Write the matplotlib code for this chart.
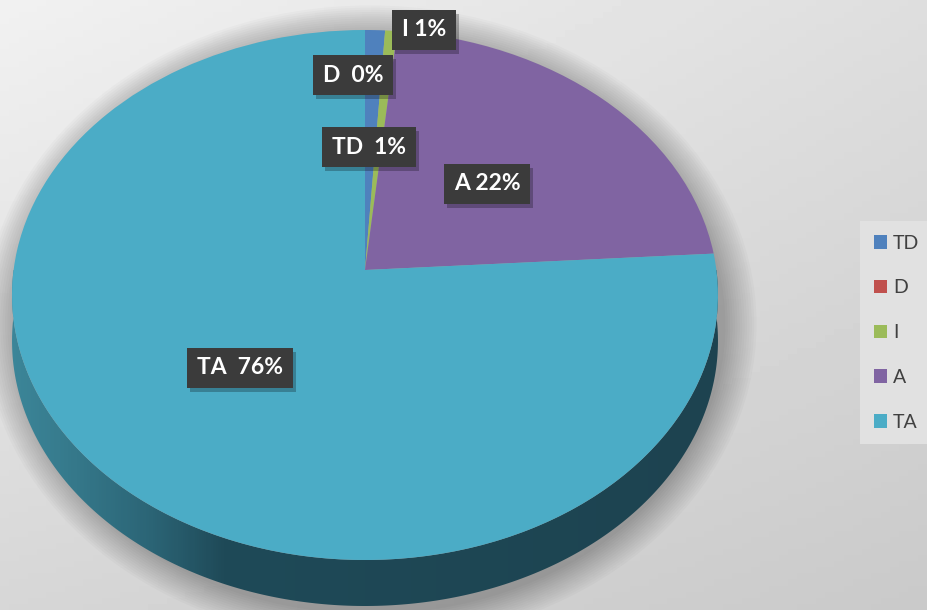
import numpy as np
import matplotlib.pyplot as plt
from matplotlib.colors import LinearSegmentedColormap
from matplotlib.patches import Polygon, Ellipse, Rectangle
from matplotlib.transforms import Transform

# Dados
categorias = ['TD', 'D', 'I', 'A', 'TA']
valores = [1.0, 0.0, 0.6, 22.4, 76.0]
rotulos = ['TD  1%', 'D  0%', 'I 1%', 'A 22%', 'TA  76%']
cores = ['#4f81bd', '#c0504d', '#9bbb59', '#8064a2', '#4bacc6']

# Geometria (pixels, y de cima para baixo)
W, H = 927, 610
cx = 365
y_topo, y_centro, y_base = 30, 270, 560
prof = 46
c = 50 / 530  # fator de perspectiva
a = y_topo * c + y_topo - y_centro
R = 351.4

# posições dos rótulos (centro da caixa, px)
pos_rotulos = [(369, 147), (353, 75), (424, 30), (487, 184), (240, 368)]


class Perspectiva(Transform):
    # leva o círculo unitário da pizza para a elipse em perspectiva (pixels)
    input_dims = 2
    output_dims = 2
    is_separable = False
    has_inverse = False

    def __init__(self, dy=0):
        super().__init__()
        self.dy = dy

    def transform_non_affine(self, values):
        values = np.asarray(values, dtype=float)
        u, v = values[:, 0], values[:, 1]
        d = 1 + c * v
        return np.column_stack([cx + R * u / d, H - ((a * v + y_centro) / d + self.dy)])


fig = plt.figure(figsize=(W / 100, H / 100), dpi=100)

# Fundo em gradiente
ax_bg = fig.add_axes([0, 0, 1, 1])
yy, xx = np.mgrid[0:1:100j, 0:1:100j]
fundo = 0.945 * (1 - xx) * (1 - yy) + 0.87 * xx * (1 - yy) + 0.84 * (1 - xx) * yy + 0.79 * xx * yy
ax_bg.imshow(fundo, cmap='gray', vmin=0, vmax=1, extent=(0, 1, 0, 1), aspect='auto')
ax_bg.axis('off')

ax = fig.add_axes([0, 0, 1, 1])
ax.patch.set_alpha(0)

# Sombra suave
for i in range(14):
    ax.add_patch(Ellipse((cx + 5, H - (y_topo + y_base + prof) / 2 - 6),
                         2 * (R + 4 + i * 2.4), (y_base - y_topo + prof) + 4 + i * 4.4,
                         fc='black', ec='none', alpha=0.02, zorder=1))

# Lateral (profundidade) com gradiente
t = np.linspace(np.pi - 0.3, 2 * np.pi + 0.3, 300)
circ = np.column_stack([np.cos(t), np.sin(t)])
borda_baixo = Perspectiva(prof).transform(circ)
borda_cima = Perspectiva(0).transform(circ)
lateral = Polygon(np.vstack([borda_baixo, borda_cima[::-1]]), closed=True,
                  fc='none', ec='none', transform=ax.transData)
ax.add_patch(lateral)
cmap_lat = LinearSegmentedColormap.from_list('lat', [(0, '#3c8699'), (0.08, '#367a8c'),
                                                     (0.2, '#2b6475'), (0.3, '#1f4a58'),
                                                     (1, '#1d4350')])
grad = np.tile(np.linspace(0, 1, 300), (2, 1))
im = ax.imshow(grad, cmap=cmap_lat, extent=(cx - R - 5, cx + R + 5, 0, H - y_centro),
               aspect='auto', zorder=2)
im.set_clip_path(lateral)

# Topo da pizza
wedges, _ = ax.pie(valores, colors=cores, startangle=90, counterclock=False,
                   center=(0, 0), radius=1, wedgeprops=dict(linewidth=0))
for w in wedges:
    w.set_transform(Perspectiva(0) + ax.transData)
    w.set_zorder(3)

ax.set_aspect('auto')
ax.set_xlim(0, W)
ax.set_ylim(0, H)
ax.axis('off')

# Rótulos
textos = []
for r, (x, y) in zip(rotulos, pos_rotulos):
    txt = ax.text(x, H - y, r, ha='center', va='center', fontsize=16.5,
                  fontweight='bold', family='Lato', color='white', zorder=6,
                  bbox=dict(boxstyle='square,pad=0.42', fc='#3b3b3b', ec='none'))
    textos.append(txt)

# Legenda
leg = fig.legend(wedges, categorias, loc='upper left', bbox_to_anchor=(860 / W, 1 - 221 / H),
                 frameon=True, fancybox=False, framealpha=1, facecolor='#e1e1e1',
                 edgecolor='none', prop={'family': 'Lato', 'size': 14},
                 handlelength=0.7, handleheight=0.7, handletextpad=0.3,
                 labelspacing=1.43, borderpad=0.7, borderaxespad=0)
for txt in leg.get_texts():
    txt.set_color('#404040')

# sombra das caixas dos rótulos
fig.canvas.draw()
for txt in textos:
    bb = txt.get_bbox_patch().get_window_extent()
    ax.add_patch(Rectangle((bb.x0 + 3, bb.y0 - 4), bb.width, bb.height, transform=None,
                           fc='black', ec='none', alpha=0.25, zorder=5))

fig.savefig('out.png', dpi=100)
